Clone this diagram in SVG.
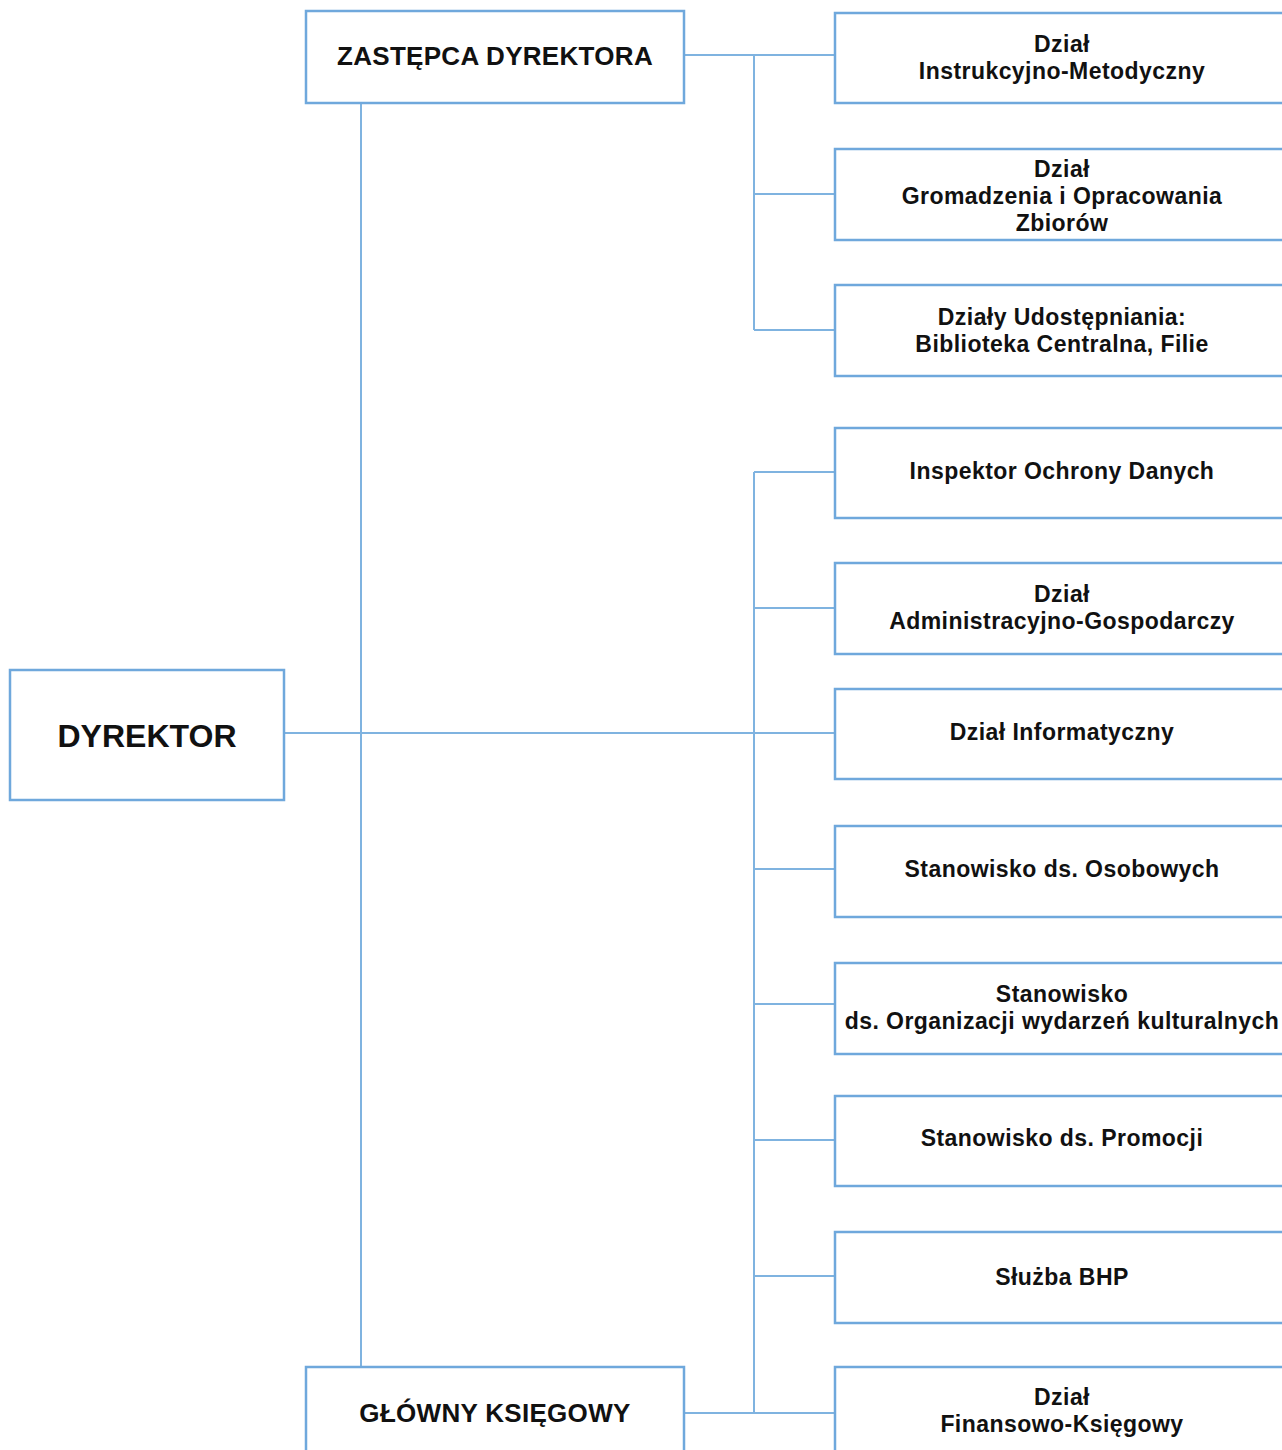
<svg xmlns="http://www.w3.org/2000/svg" width="1282" height="1450" viewBox="0 0 1282 1450">
<style>
.box{fill:#fff;stroke:#6fa8dc;stroke-width:2.5}
.ln{fill:none;stroke:#7fb3e0;stroke-width:2}
.t{font-family:"Liberation Sans",Arial,sans-serif;font-weight:bold;fill:#111;text-anchor:middle;font-size:23px;letter-spacing:0.45px}
.big{font-size:32px;letter-spacing:0}
.mid{font-size:26px;letter-spacing:0.3px}
</style>
<rect width="1282" height="1450" fill="#fff"/>
<g id="connectors">
<path class="ln" d="M361 103V1367M284 733H835M684 55H835M754 55V330M754 194H835M754 330H835M754 472V1413M754 472H835M754 608H835M754 869H835M754 1004H835M754 1140H835M754 1276H835M684 1413H835"/>
</g>
<g id="dyrektor"><rect class="box" x="10" y="670" width="274" height="130"/><text class="t big" x="147" y="747">DYREKTOR</text></g>
<g id="zastepca"><rect class="box" x="306" y="11" width="378" height="92"/><text class="t mid" x="495" y="65">ZASTĘPCA DYREKTORA</text></g>
<g id="ksiegowy"><rect class="box" x="306" y="1367" width="378" height="100"/><text class="t mid" x="495" y="1422">GŁÓWNY KSIĘGOWY</text></g>
<g id="n1"><rect class="box" x="835" y="13" width="460" height="90"/><text class="t" x="1062" y="52">Dział</text><text class="t" x="1062" y="79">Instrukcyjno-Metodyczny</text></g>
<g id="n2"><rect class="box" x="835" y="149" width="460" height="91"/><text class="t" x="1062" y="177">Dział</text><text class="t" x="1062" y="204">Gromadzenia i Opracowania</text><text class="t" x="1062" y="231">Zbiorów</text></g>
<g id="n3"><rect class="box" x="835" y="285" width="460" height="91"/><text class="t" x="1062" y="325">Działy  Udostępniania:</text><text class="t" x="1062" y="352">Biblioteka Centralna, Filie</text></g>
<g id="n4"><rect class="box" x="835" y="428" width="460" height="90"/><text class="t" x="1062" y="479">Inspektor Ochrony Danych</text></g>
<g id="n5"><rect class="box" x="835" y="563" width="460" height="91"/><text class="t" x="1062" y="602">Dział</text><text class="t" x="1062" y="629">Administracyjno-Gospodarczy</text></g>
<g id="n6"><rect class="box" x="835" y="689" width="460" height="90"/><text class="t" x="1062" y="740">Dział Informatyczny</text></g>
<g id="n7"><rect class="box" x="835" y="826" width="460" height="91"/><text class="t" x="1062" y="877">Stanowisko ds. Osobowych</text></g>
<g id="n8"><rect class="box" x="835" y="963" width="460" height="91"/><text class="t" x="1062" y="1002">Stanowisko</text><text class="t" x="1062" y="1029">ds. Organizacji wydarzeń kulturalnych</text></g>
<g id="n9"><rect class="box" x="835" y="1096" width="460" height="90"/><text class="t" x="1062" y="1146">Stanowisko ds. Promocji</text></g>
<g id="n10"><rect class="box" x="835" y="1232" width="460" height="91"/><text class="t" x="1062" y="1285">Służba BHP</text></g>
<g id="n11"><rect class="box" x="835" y="1367" width="460" height="100"/><text class="t" x="1062" y="1405">Dział</text><text class="t" x="1062" y="1432">Finansowo-Księgowy</text></g>
</svg>
